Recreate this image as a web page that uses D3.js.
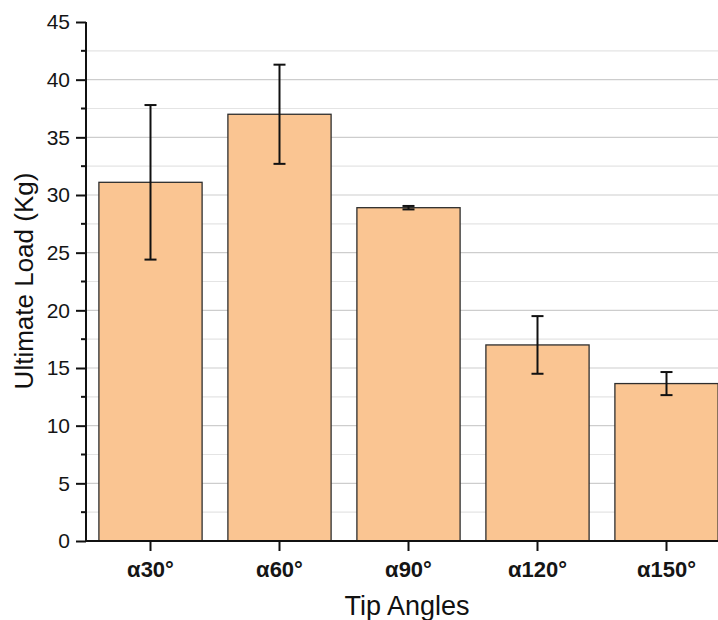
<!DOCTYPE html>
<html>
<head>
<meta charset="utf-8">
<script src="https://cdn.jsdelivr.net/npm/d3@7"></script>
<style>
  html, body { margin: 0; padding: 0; background: #fff; }
  svg { display: block; font-family: "Liberation Sans", Arial, sans-serif; }
</style>
</head>
<body>
<svg id="chart" width="718" height="620"></svg>
<script>
// ---- data ----
const categories = ["α30°", "α60°", "α90°", "α120°", "α150°"];
const means = [31.1, 37.0, 28.9, 17.0, 13.65];
const errors = [6.7, 4.3, 0.15, 2.5, 1.0];
const yTicks = [0, 5, 10, 15, 20, 25, 30, 35, 40, 45];
const yMinorTicks = [2.5, 7.5, 12.5, 17.5, 22.5, 27.5, 32.5, 37.5, 42.5];
const xTitle = "Tip Angles";
const yTitle = "Ultimate Load (Kg)";

(function () {
const svg = d3.select("#chart");
const W = 718;
const mLeft = 86, mTop = 22, mBottom = 541;

const x = d3.scaleBand().domain(categories).range([mLeft, mLeft + 5 * 129])
  .paddingInner(0.2).paddingOuter(0.1);
const y = d3.scaleLinear().domain([0, 45]).range([mBottom, mTop]);

// gridlines
svg.append("g").selectAll("line").data(yMinorTicks).join("line")
  .attr("x1", mLeft).attr("x2", W)
  .attr("y1", d => y(d)).attr("y2", d => y(d))
  .attr("stroke", "#e4e4e4").attr("stroke-width", 1.2);
svg.append("g").selectAll("line").data(yTicks.filter(d => d > 0 && d < 45)).join("line")
  .attr("x1", mLeft).attr("x2", W)
  .attr("y1", d => y(d)).attr("y2", d => y(d))
  .attr("stroke", "#cdcdcd").attr("stroke-width", 1.2);

// bars
svg.append("g").selectAll("rect").data(categories).join("rect")
  .attr("x", d => x(d))
  .attr("y", (d, i) => y(means[i]))
  .attr("width", x.bandwidth())
  .attr("height", (d, i) => y(0) - y(means[i]))
  .attr("fill", "#fac592")
  .attr("stroke", "#2e2e2e")
  .attr("stroke-width", 1.3);

// error bars
const eg = svg.append("g").attr("stroke", "#111").attr("stroke-width", 2);
categories.forEach((c, i) => {
  const cx = x(c) + x.bandwidth() / 2;
  const hi = y(means[i] + errors[i]), lo = y(means[i] - errors[i]);
  eg.append("line").attr("x1", cx).attr("x2", cx).attr("y1", hi).attr("y2", lo);
  eg.append("line").attr("x1", cx - 6).attr("x2", cx + 6).attr("y1", hi).attr("y2", hi);
  eg.append("line").attr("x1", cx - 6).attr("x2", cx + 6).attr("y1", lo).attr("y2", lo);
});

// y axis
const yAxis = svg.append("g").attr("transform", `translate(${mLeft},0)`)
  .call(d3.axisLeft(y).tickValues(yTicks).tickSize(10).tickPadding(6).tickFormat(d3.format("d")));
yAxis.select(".domain").attr("stroke", "#111").attr("stroke-width", 2).attr("d", `M0,${mTop}V${mBottom}`);
yAxis.selectAll(".tick line").attr("stroke", "#111").attr("stroke-width", 2);
yAxis.selectAll(".tick text").attr("font-size", 21).attr("fill", "#151515")
  .attr("font-family", "Liberation Sans, Arial, sans-serif");
svg.append("g").selectAll("line").data(yMinorTicks).join("line")
  .attr("x1", mLeft - 5).attr("x2", mLeft)
  .attr("y1", d => y(d)).attr("y2", d => y(d))
  .attr("stroke", "#111").attr("stroke-width", 2);

// x axis
const xAxis = svg.append("g").attr("transform", `translate(0,${mBottom})`)
  .call(d3.axisBottom(x).tickSize(10).tickPadding(10));
xAxis.select(".domain").attr("stroke", "#111").attr("stroke-width", 2).attr("d", `M${mLeft - 1},0H${W}`);
xAxis.selectAll(".tick line").attr("stroke", "#111").attr("stroke-width", 2);
xAxis.selectAll(".tick text").attr("font-size", 22).attr("font-weight", "bold").attr("fill", "#151515")
  .attr("font-family", "Liberation Sans, Arial, sans-serif");

// titles
svg.append("text").attr("x", 407).attr("y", 615).attr("text-anchor", "middle")
  .attr("font-size", 27).attr("fill", "#111").text(xTitle);
svg.append("text").attr("transform", `translate(33,281) rotate(-90)`).attr("text-anchor", "middle")
  .attr("font-size", 26).attr("fill", "#111").text(yTitle);
})();
</script>
</body>
</html>
